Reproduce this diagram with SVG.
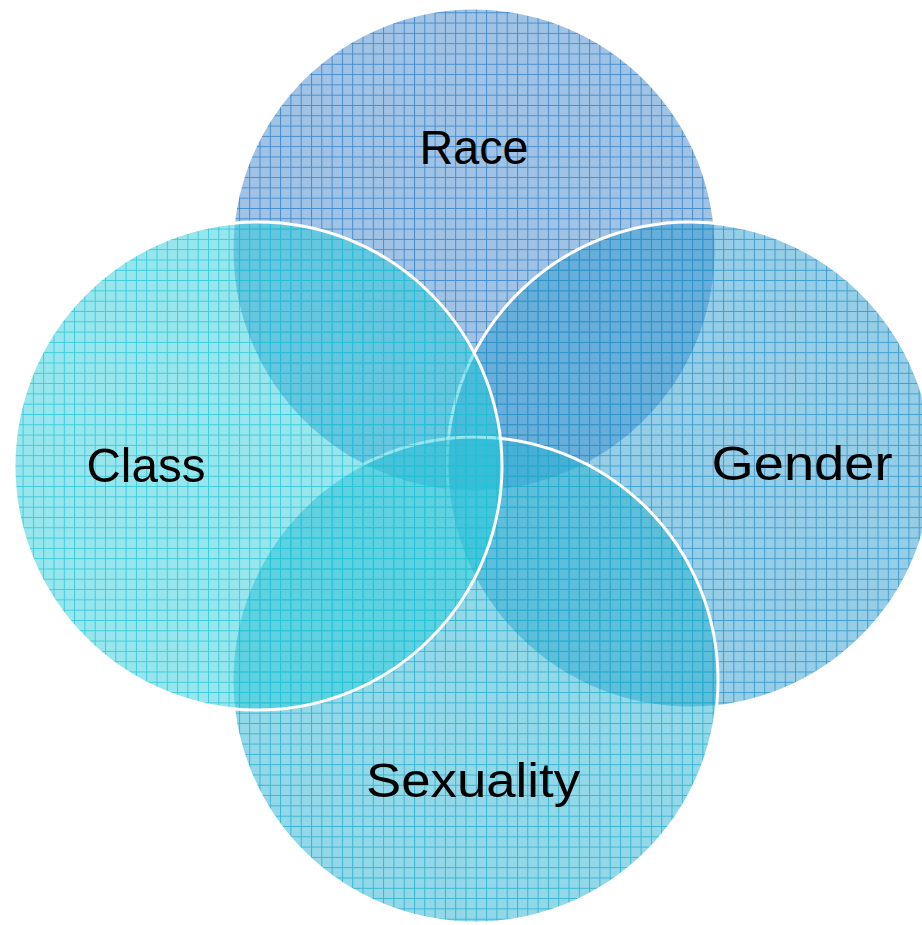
<svg xmlns="http://www.w3.org/2000/svg" width="922" height="925" viewBox="0 0 922 925">
<defs>
<pattern id="pRace" patternUnits="userSpaceOnUse" width="10.3" height="10.3" x="2" y="2">
<rect width="10.3" height="10.3" fill="#4287CB" fill-opacity="0.5"/>
<path d="M0 0.5H10.3M0.5 0V10.3" stroke="#2E7FC8" stroke-opacity="0.8" stroke-width="1"/>
</pattern>
<pattern id="pGender" patternUnits="userSpaceOnUse" width="10.3" height="10.3" x="2" y="2">
<rect width="10.3" height="10.3" fill="#2E9CCF" fill-opacity="0.5"/>
<path d="M0 0.5H10.3M0.5 0V10.3" stroke="#2A93C9" stroke-opacity="0.8" stroke-width="1"/>
</pattern>
<pattern id="pSex" patternUnits="userSpaceOnUse" width="10.3" height="10.3" x="2" y="2">
<rect width="10.3" height="10.3" fill="#26B1D2" fill-opacity="0.5"/>
<path d="M0 0.5H10.3M0.5 0V10.3" stroke="#22AECD" stroke-opacity="0.8" stroke-width="1"/>
</pattern>
<pattern id="pClass" patternUnits="userSpaceOnUse" width="10.3" height="10.3" x="2" y="2">
<rect width="10.3" height="10.3" fill="#25CAD8" fill-opacity="0.48"/>
<path d="M0 0.5H10.3M0.5 0V10.3" stroke="#22C6D6" stroke-opacity="0.8" stroke-width="1"/>
</pattern>
</defs>
<style>
.edge{fill:none;stroke:#FFFFFF;stroke-width:3}
.lbl{font-family:"Century Gothic","URW Gothic","Liberation Sans",sans-serif;font-size:49px;fill:#000000;text-anchor:middle}
</style>
<rect width="922" height="925" fill="#FFFFFF"/>
<g id="race">
<circle cx="474" cy="250" r="242" fill="url(#pRace)"/>
<circle class="edge" cx="474" cy="250" r="242"/>
</g>
<g id="gender">
<circle cx="690" cy="465" r="243" fill="url(#pGender)"/>
<circle class="edge" cx="690" cy="465" r="243"/>
</g>
<g id="sexuality">
<circle cx="475" cy="680" r="243" fill="url(#pSex)"/>
<circle class="edge" cx="475" cy="680" r="243"/>
</g>
<g id="class">
<circle cx="258" cy="466" r="244" fill="url(#pClass)"/>
<circle class="edge" cx="258" cy="466" r="244"/>
</g>
<g id="connectors"></g>
<g id="labels">
<text class="lbl" x="474" y="164" textLength="109" lengthAdjust="spacingAndGlyphs">Race</text>
<text class="lbl" x="146" y="482" textLength="119" lengthAdjust="spacingAndGlyphs">Class</text>
<text class="lbl" x="802" y="480" textLength="181" lengthAdjust="spacingAndGlyphs">Gender</text>
<text class="lbl" x="473" y="797" textLength="214" lengthAdjust="spacingAndGlyphs">Sexuality</text>
</g>
</svg>
